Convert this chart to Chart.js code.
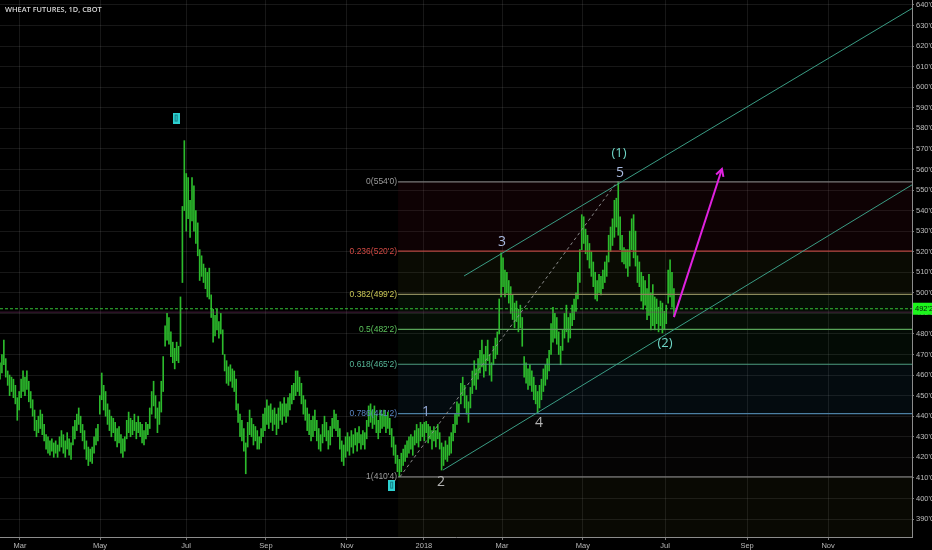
<!DOCTYPE html>
<html><head><meta charset="utf-8">
<script src="https://cdn.jsdelivr.net/npm/chart.js@4"></script>
<style>html,body{margin:0;padding:0;background:#000;}canvas{display:block}</style>
</head><body>
<canvas id="c" width="932" height="550"></canvas>
<script>
// ---- data (daily bars, index = trading day) ----
const lows = [
458,461,465,459,455,450,452,449,446,438,
443,449,452,450,453,447,444,440,433,430,
432,434,431,428,424,422,421,423,420,422,
420,423,425,422,420,424,421,419,426,429,
433,436,432,428,424,419,416,418,417,422,
426,428,441,448,443,440,436,433,430,432,
428,425,427,422,420,423,429,432,430,431,
433,429,432,430,427,426,429,431,434,441,
445,439,432,436,442,452,474,477,475,469,
466,463,467,466,474,505,540,530,536,527,
535,530,524,518,506,508,505,502,498,497,
488,476,479,482,478,480,470,462,456,455,
457,454,452,443,437,430,428,423,412,425,
431,430,426,428,424,424,427,430,433,436,
434,437,433,436,431,434,438,436,440,437,
440,443,446,448,450,452,450,446,441,438,
433,431,428,430,433,428,424,423,427,430,
428,424,426,430,434,433,430,424,418,416,
420,423,421,425,422,426,423,427,424,426,
424,429,435,437,434,436,432,429,432,434,
435,432,434,431,425,421,417,413,410.5,413,
416,418,420,422,424,421,426,427,425,428,
430,428,432,427,429,424,428,425,429,424,
413.8,416,419,418,421,422,428,432,436,440,
446,450,444,441,437,444,451,455,453,458,
461,464,459,462,467,460,457,465,468,470,
480,498,503,498,500,495,490,487,483,486,
481,483,474,459,456,453,455,452,448,446,
441.6,444,448,452,455,458,462,470,476,478,
475,470,465,472,478,481,476,478,484,487,
491,497,505,521,524,519,516,512,508,503,
497,496,500,499,502,505,508,515,520,523,
527,532,528,521,515,514,512,508,513,521,
517,513,505,503,496,492,494,487,489,482,
484,482,485,481,484,480.5,482,485,495,498,493,489
];
const highs = [
466,470,477,468,462,460,459,458,455,449,
452,458,462,459,462,457,452,448,443,438,
440,443,441,436,431,430,428,429,427,428,
426,430,433,431,428,432,429,427,435,438,
441,444,440,436,433,428,425,424,425,430,
434,436,450,461,455,452,446,443,440,439,
437,434,435,431,429,430,438,442,439,438,
441,437,440,437,436,433,437,436,444,452,
457,450,444,447,457,469,484,490,488,481,
476,473,476,474,498,542,574,558,556,545,
556,552,540,534,521,518,514,512,510,512,
499,492,489,492,486,490,482,470,467,464,
465,463,462,458,446,441,438,434,427,437,
443,439,436,435,433,430,434,441,444,448,
445,446,443,444,441,444,447,446,449,446,
449,451,455,456,462,462,459,456,450,448,
444,441,438,440,443,438,434,431,436,440,
437,433,435,439,443,441,438,434,428,426,
430,432,430,433,431,434,432,435,431,433,
432,438,445,446,443,445,441,438,443,441,
443,440,442,439,434,430,426,421,419,422,
424,426,428,430,431,430,433,436,434,437,
436,437,437.5,436,435,433,435,433,436,432,
427,425,428,426,430,432,436,441,447,446,
456,459,455,450,447,454,462,467,463,468,
472,477,470,474,477,470,466,474,478,481,
497,519.4,517,511,510,506,503,499,495,496,
492,494,488,469,466,463,465,462,459,455,
452,455,458,463,465,468,472,485,493,490,
488,481,474,482,490,494,488,490,494,497,
500,510,521,538,537,531,528,524,520,515,
510,506,509,508,511,515,518,528,532,536,
545,546,554,537,528,522,521,521,530,536,
538,530,518,515,510,508,506,502,509,500,
504,498,497,493,496,495,491,494,511,516,510,502
];
const xTickVals = [10.4, 52.1, 96.9, 138.5, 180.7, 220.8, 261.5, 303.6, 346.4, 389.1, 431.3];
const xTickLabels = ['Mar','May','Jul','Sep','Nov','2018','Mar','May','Jul','Sep','Nov'];
const yTickVals = [390,400,410,420,430,440,450,460,470,480,490,500,510,520,530,540,550,560,570,580,590,600,610,620,630,640];
const fibRatios = ['0','0.236','0.382','0.5','0.618','0.786','1'];
const fibPrices = [554, 520.25, 499.25, 482.25, 465.25, 441.25, 410.5];
const fibStart = 207.3;
const lastPrice = 492.25;
const prevLine = 490.6;
const channelUpper = [{x:241.7, y:508.2}, {x:475, y:638.3}];
const channelLower = [{x:230.7, y:413.8}, {x:475, y:552.5}];
const fibTrend = [{x:208.3, y:410.5}, {x:321.4, y:554}];
const arrowPts = [{x:351, y:488.2}, {x:376, y:560.2}];
const markerPts = [{x:91.7, y:585}, {x:204, y:406.5}];
const waveTexts = ['1','2','3','4','5','(1)','(2)'];
const waveX = [221.9, 229.7, 261.5, 280.7, 322.9, 322.4, 346.4];
const waveY = [442, 408, 524.7, 436.7, 558.3, 568, 475.6];

// ---- styles ----
const fibLineColors = ['#7a7a7a','#b5453f','#8c8a5c','#58a458','#4e9c80','#4c7fa3','#7a7a7a'];
const fibTextColors = ['#9c9c9c','#d24a44','#c9c655','#5cc25c','#55b596','#5a86c4','#9c9c9c'];
const fibBandColors = ['rgba(130,20,40,0.11)','rgba(110,120,30,0.09)','rgba(60,150,50,0.09)','rgba(40,140,70,0.08)','rgba(40,110,150,0.10)','rgba(90,60,60,0.06)','rgba(110,120,40,0.08)'];
const waveColors = ['#93a8d4','#b4b4b4','#a9badf','#b4b4b4','#a9badf','#6fd8c8','#6fd8c8'];

function fmt(v){ const i=Math.floor(v+1e-9); const e=Math.round((v-i)*8); return i+"'"+e; }

const markerImg = document.createElement('canvas');
markerImg.width = 7; markerImg.height = 11;
(function(){ const m = markerImg.getContext('2d'); m.fillStyle='#2cd0d0'; m.fillRect(0,0,7,11); m.strokeStyle='#137f86'; m.lineWidth=1; m.strokeRect(2.5,2.5,2,6); })();

const bars = lows.map((l,i)=>({x:i, y:[l, highs[i]]}));

const lineDs = (data, color, extra) => Object.assign({type:'line', data, borderColor:color, borderWidth:1, pointRadius:0, fill:false, tension:0, order:1}, extra||{});

const datasets = [
  {type:'bar', data:bars, backgroundColor:'#2cba2c', borderWidth:0, barThickness:1, grouped:false, order:6}
];
datasets.push(lineDs([{x:0,y:prevLine},{x:475,y:prevLine}], 'rgba(150,60,130,0.45)', {order:4}));
fibPrices.forEach((p,i)=>datasets.push(lineDs([{x:fibStart,y:p},{x:475,y:p}], fibLineColors[i], {borderWidth:1.2, order:3})));
datasets.push(lineDs([{x:0,y:lastPrice},{x:475,y:lastPrice}], '#35c235', {borderDash:[3,2], order:2}));
datasets.push(lineDs(channelUpper, '#3a9c84'));
datasets.push(lineDs(channelLower, '#3a9c84'));
datasets.push(lineDs(fibTrend, '#8c8c8c', {borderDash:[3,3]}));
datasets.push(lineDs(arrowPts, '#e022e0', {borderWidth:2, order:0}));
datasets.push({type:'line', data:markerPts, showLine:false, pointStyle:markerImg, pointRadius:6, order:0});

const annot = {
  id:'annot',
  beforeDatasetsDraw(chart){
    const {ctx, chartArea:a, scales:{x,y}} = chart;
    ctx.save();
    ctx.beginPath(); ctx.rect(a.left,a.top,a.right-a.left,a.bottom-a.top); ctx.clip();
    const x0 = x.getPixelForValue(fibStart);
    for(let i=0;i<fibPrices.length;i++){
      const t = y.getPixelForValue(fibPrices[i]);
      const b = i<fibPrices.length-1 ? y.getPixelForValue(fibPrices[i+1]) : a.bottom;
      ctx.fillStyle = fibBandColors[i];
      ctx.fillRect(x0, t, a.right-x0, b-t);
    }
    ctx.restore();
  },
  afterDatasetsDraw(chart){
    const {ctx, chartArea:a, scales:{x,y}} = chart;
    ctx.save();
    // fib labels
    ctx.font = '8.5px "Liberation Sans", Arial, sans-serif';
    ctx.textAlign='right'; ctx.textBaseline='middle';
    const xl = x.getPixelForValue(fibStart)-1;
    fibPrices.forEach((p,i)=>{ ctx.fillStyle=fibTextColors[i]; ctx.fillText(fibRatios[i]+'('+fmt(p)+')', xl, y.getPixelForValue(p)); });
    // arrow head
    const p0 = {x:x.getPixelForValue(arrowPts[0].x), y:y.getPixelForValue(arrowPts[0].y)};
    const p1 = {x:x.getPixelForValue(arrowPts[1].x), y:y.getPixelForValue(arrowPts[1].y)};
    const ang = Math.atan2(p1.y-p0.y, p1.x-p0.x);
    ctx.strokeStyle='#e022e0'; ctx.lineWidth=2;
    ctx.beginPath();
    ctx.moveTo(p1.x-8*Math.cos(ang-0.5), p1.y-8*Math.sin(ang-0.5));
    ctx.lineTo(p1.x, p1.y);
    ctx.lineTo(p1.x-8*Math.cos(ang+0.5), p1.y-8*Math.sin(ang+0.5));
    ctx.stroke();
    // wave labels
    ctx.textAlign='center'; ctx.textBaseline='middle';
    waveTexts.forEach((t,i)=>{
      ctx.font = (t.length>1?'13px':'14px')+' "Open Sans", "Liberation Sans", sans-serif';
      ctx.fillStyle = waveColors[i];
      ctx.fillText(t, x.getPixelForValue(waveX[i]), y.getPixelForValue(waveY[i]));
    });
    ctx.restore();
  },
  afterDraw(chart){
    const {ctx, chartArea:a, scales:{y}} = chart;
    ctx.save();
    // title
    ctx.font = '600 7.4px "Open Sans", "Liberation Sans", sans-serif';
    ctx.fillStyle='#d6d6d6'; ctx.textAlign='left'; ctx.textBaseline='middle';
    ctx.fillText('WHEAT FUTURES, 1D, CBOT', 5, 10);
    // last price label
    const py = y.getPixelForValue(lastPrice);
    ctx.fillStyle='#1cf51c';
    ctx.fillRect(a.right+1, py-6, 20, 12);
    ctx.fillStyle='#0a1a0a';
    ctx.font='7.5px "Liberation Sans", Arial, sans-serif';
    ctx.textAlign='left';
    ctx.fillText(fmt(lastPrice), a.right+3, py+0.5);
    ctx.restore();
  }
};

new Chart(document.getElementById('c'), {
  type:'bar',
  data:{datasets},
  options:{
    responsive:false, animation:false, devicePixelRatio:1,
    layout:{padding:0, autoPadding:false},
    plugins:{legend:{display:false}, tooltip:{enabled:false}},
    scales:{
      x:{type:'linear', min:0, max:475, offset:false,
        afterBuildTicks(s){ s.ticks = xTickVals.map(v=>({value:v})); },
        afterFit(s){ s.height=13; s.paddingLeft=0; s.paddingRight=0; },
        ticks:{callback:(v,i)=>xTickLabels[i], color:'#b8b8b8', font:{size:7.5, family:'"Liberation Sans", Arial'}, maxRotation:0, autoSkip:false, padding:1},
        grid:{color:'rgba(255,255,255,0.09)', tickLength:3, tickColor:'#777', offset:false},
        border:{color:'#8c8c8c'}
      },
      y:{type:'linear', position:'right', min:381.25, max:642.4,
        afterBuildTicks(s){ s.ticks = yTickVals.map(v=>({value:v})); },
        afterFit(s){ s.width=20; s.paddingTop=0; s.paddingBottom=0; },
        ticks:{callback:(v)=>fmt(v), color:'#bcbcbc', font:{size:7.5, family:'"Liberation Sans", Arial'}, padding:2},
        grid:{color:'rgba(255,255,255,0.09)', tickLength:2, tickColor:'#777'},
        border:{color:'#8c8c8c'}
      }
    }
  },
  plugins:[annot]
});
</script>
</body></html>
